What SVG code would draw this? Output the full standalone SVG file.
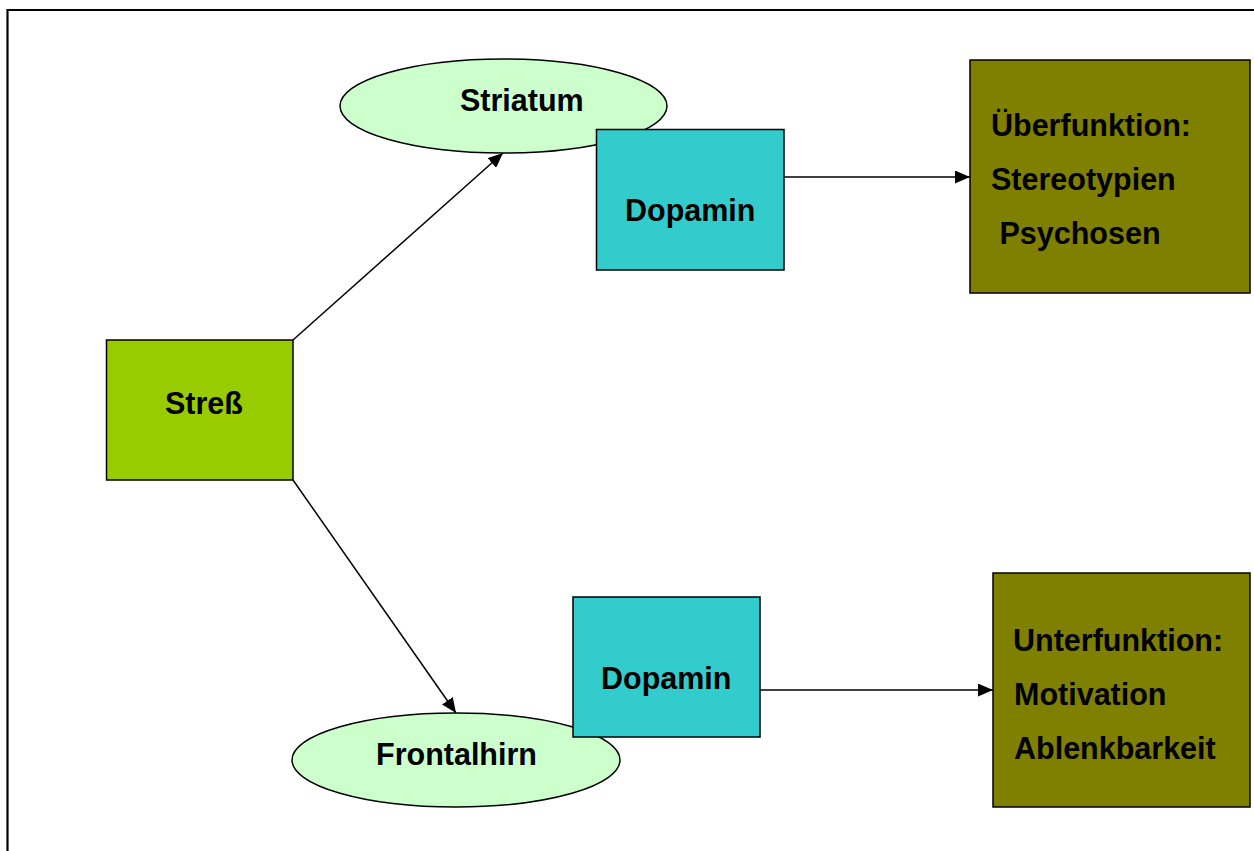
<svg xmlns="http://www.w3.org/2000/svg" width="1254" height="851" viewBox="0 0 1254 851">
<style>
text{font-family:"Liberation Sans",Arial,sans-serif;font-weight:bold;font-size:30.5px;fill:#000}
.box{stroke:#000;stroke-width:1.5}
.ell{fill:#ccffcc;stroke:#000;stroke-width:1.5}
.dop{fill:#33cccc;stroke:#000;stroke-width:1.5}
.out{fill:#808000;stroke:#000;stroke-width:1.5}
.conn{stroke:#000;stroke-width:1.5;fill:none;marker-end:url(#ah)}
</style>
<defs>
<marker id="ah" viewBox="0 0 15 13" refX="15" refY="6.5" markerWidth="15" markerHeight="13" markerUnits="userSpaceOnUse" orient="auto">
<path d="M0,0 L15,6.5 L0,13 z" fill="#000"/>
</marker>
</defs>
<rect width="1254" height="851" fill="#fff"/>
<path d="M7.5,851 V10 H1254" fill="none" stroke="#000" stroke-width="2.2"/>
<g id="connectors">
<line class="conn" x1="293" y1="340" x2="503" y2="153"/>
<line class="conn" x1="293" y1="480" x2="456" y2="713"/>
<line class="conn" x1="784" y1="177" x2="970" y2="177"/>
<line class="conn" x1="760" y1="690" x2="993" y2="690"/>
</g>
<g id="striatum">
<ellipse class="ell" cx="503.5" cy="106" rx="163.5" ry="47"/>
<text x="460" y="110.5">Striatum</text>
</g>
<g id="dopamin1">
<rect class="dop" x="596.5" y="129.5" width="187.5" height="140.5"/>
<text x="625" y="220.5">Dopamin</text>
</g>
<g id="stress">
<rect class="box" x="106.5" y="340" width="186.5" height="140" fill="#99cc00"/>
<text x="165" y="414">Streß</text>
</g>
<g id="frontalhirn">
<ellipse class="ell" cx="456" cy="760" rx="164" ry="47"/>
<text x="376" y="764.5">Frontalhirn</text>
</g>
<g id="dopamin2">
<rect class="dop" x="573" y="597" width="187" height="140"/>
<text x="601" y="688.5">Dopamin</text>
</g>
<g id="ueberfunktion">
<rect class="out" x="970" y="60" width="280" height="233"/>
<text x="991" y="135.5">Überfunktion:</text>
<text x="991" y="189.5">Stereotypien</text>
<text x="991" y="243.5" xml:space="preserve"> Psychosen</text>
</g>
<g id="unterfunktion">
<rect class="out" x="993" y="573" width="257" height="234"/>
<text x="1013" y="650.5">Unterfunktion:</text>
<text x="1014" y="704.5">Motivation</text>
<text x="1014" y="758.5">Ablenkbarkeit</text>
</g>
</svg>
